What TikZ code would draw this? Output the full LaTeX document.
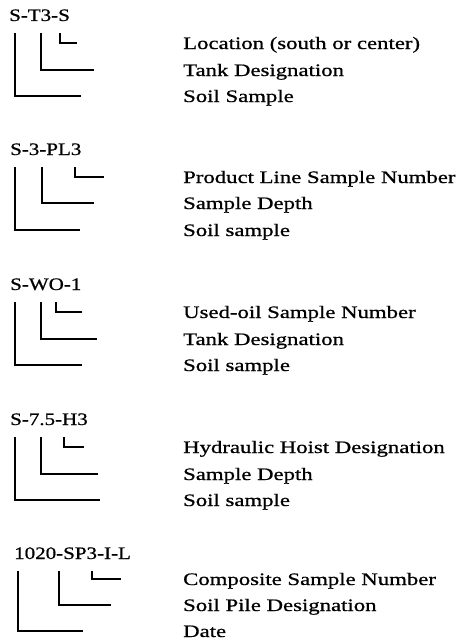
\documentclass[tikz,border=0pt]{standalone}
\usepackage{fontspec}
\setmainfont{Liberation Serif}
\newfontfamily\codefont{Liberation Serif}[FakeStretch=1.2,FakeBold=0.8]
\newfontfamily\labfont{Liberation Serif}[FakeStretch=1.3,FakeBold=0.8]
\begin{document}
\begin{tikzpicture}[x=1pt,y=-1pt,
  code/.style={anchor=base west,inner sep=0pt,font=\codefont\fontsize{17.5}{20}\selectfont},
  lab/.style={anchor=base west,inner sep=0pt,font=\labfont\fontsize{17.5}{20}\selectfont},
  hook/.style={line width=1.6pt,line cap=butt,line join=miter}]
\useasboundingbox (0,0) rectangle (462,642);

% --- S-T3-S
\node[code] (c1) at (9,21) {S-T3-S};
\node[lab] (a1) at (183,49) {Location (south or center)};
\node[lab] (b1) at (183,76) {Tank Designation};
\node[lab] (s1) at (183,102) {Soil Sample};
\coordinate (a1e) at (77,43);
\coordinate (b1e) at (94,70);
\coordinate (s1e) at (81,96);
\draw[hook] (60,33) |- (a1e);
\draw[hook] (41,33) |- (b1e);
\draw[hook] (15,33) |- (s1e);

% --- S-3-PL3
\node[code] (c2) at (10,155) {S-3-PL3};
\node[lab] (a2) at (183,183) {Product Line Sample Number};
\node[lab] (b2) at (183,209) {Sample Depth};
\node[lab] (s2) at (183,236) {Soil sample};
\coordinate (a2e) at (104,177);
\coordinate (b2e) at (94,203);
\coordinate (s2e) at (80,230);
\draw[hook] (75,167) |- (a2e);
\draw[hook] (42,167) |- (b2e);
\draw[hook] (15,167) |- (s2e);

% --- S-WO-1
\node[code] (c3) at (10,290) {S-WO-1};
\node[lab] (a3) at (183,318) {Used-oil Sample Number};
\node[lab] (b3) at (183,345) {Tank Designation};
\node[lab] (s3) at (183,371) {Soil sample};
\coordinate (a3e) at (82,312);
\coordinate (b3e) at (97,339);
\coordinate (s3e) at (82,365);
\draw[hook] (56,302) |- (a3e);
\draw[hook] (41,302) |- (b3e);
\draw[hook] (15,302) |- (s3e);

% --- S-7.5-H3
\node[code] (c4) at (10,425) {S-7.5-H3};
\node[lab] (a4) at (183,453) {Hydraulic Hoist Designation};
\node[lab] (b4) at (183,480) {Sample Depth};
\node[lab] (s4) at (183,506) {Soil sample};
\coordinate (a4e) at (84,447);
\coordinate (b4e) at (98,474);
\coordinate (s4e) at (100,500);
\draw[hook] (64,437) |- (a4e);
\draw[hook] (41,437) |- (b4e);
\draw[hook] (15,437) |- (s4e);

% --- 1020-SP3-I-L
\node[code] (c5) at (14,559) {1020-SP3-I-L};
\node[lab] (a5) at (183,585) {Composite Sample Number};
\node[lab] (b5) at (183,611) {Soil Pile Designation};
\node[lab] (s5) at (183,637) {Date};
\coordinate (a5e) at (121,579);
\coordinate (b5e) at (111,605);
\coordinate (s5e) at (83,631);
\draw[hook] (92,571) |- (a5e);
\draw[hook] (59,571) |- (b5e);
\draw[hook] (18,571) |- (s5e);
\end{tikzpicture}
\end{document}
